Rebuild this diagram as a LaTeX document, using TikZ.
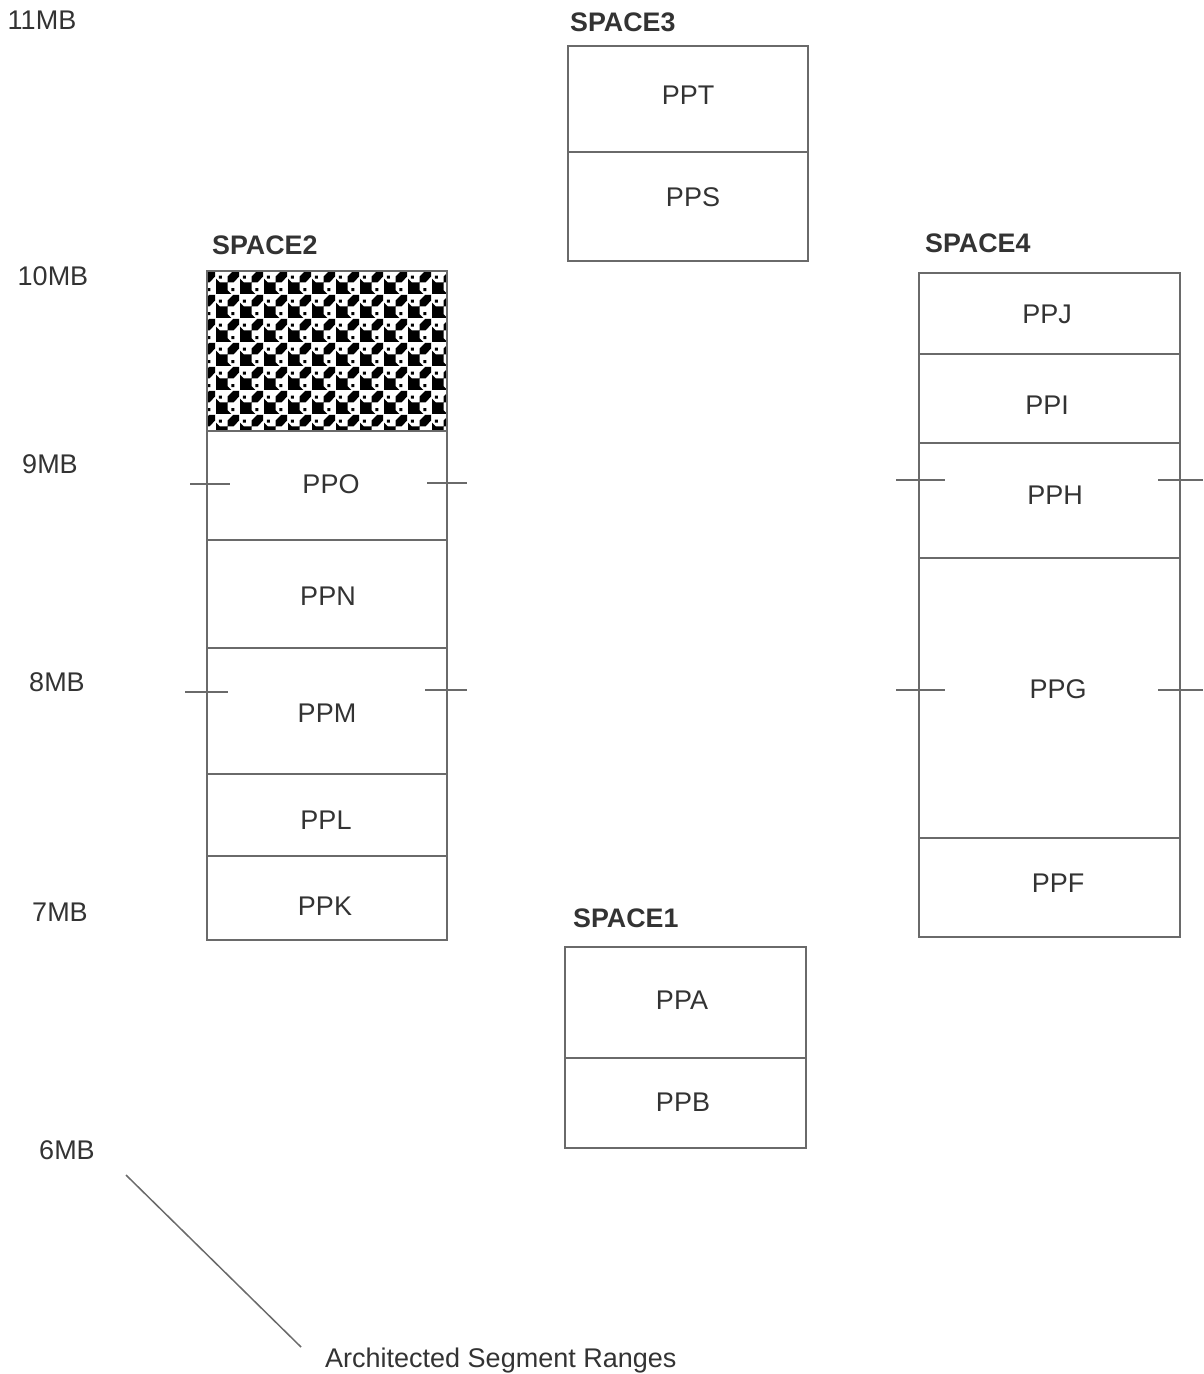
\documentclass[tikz,border=0pt]{standalone}
\usepackage{fontspec}
\setmainfont{Liberation Sans}
\usetikzlibrary{patterns,fit}
\definecolor{ln}{HTML}{6A6A6A}
\definecolor{tx}{HTML}{333333}
\pgfdeclarepatternformonly{hound}{\pgfpointorigin}{\pgfqpoint{24pt}{24pt}}{\pgfqpoint{24pt}{24pt}}{%
  \pgfpathrectangle{\pgfpointorigin}{\pgfqpoint{12pt}{12pt}}%
  \pgfpathmoveto{\pgfqpoint{12pt}{12pt}}%
  \pgfpathlineto{\pgfqpoint{18pt}{12pt}}%
  \pgfpathlineto{\pgfqpoint{24pt}{18pt}}%
  \pgfpathlineto{\pgfqpoint{24pt}{24pt}}%
  \pgfpathlineto{\pgfqpoint{18pt}{24pt}}%
  \pgfpathlineto{\pgfqpoint{12pt}{18pt}}%
  \pgfpathclose
  \pgfpathmoveto{\pgfqpoint{12pt}{0pt}}%
  \pgfpathlineto{\pgfqpoint{16pt}{0pt}}%
  \pgfpathlineto{\pgfqpoint{12pt}{4pt}}%
  \pgfpathclose
  \pgfpathmoveto{\pgfqpoint{0pt}{12pt}}%
  \pgfpathlineto{\pgfqpoint{0pt}{16pt}}%
  \pgfpathlineto{\pgfqpoint{4pt}{12pt}}%
  \pgfpathclose
  \pgfpathrectangle{\pgfqpoint{16pt}{3pt}}{\pgfqpoint{3pt}{3pt}}%
  \pgfpathrectangle{\pgfqpoint{3pt}{16pt}}{\pgfqpoint{3pt}{3pt}}%
  \pgfusepath{fill}}
\begin{document}
\begin{tikzpicture}[x=1pt,y=-1pt,
  txt/.style={text=tx, font=\fontsize{27}{31}\selectfont, inner sep=0pt, text height=19.3pt, text depth=0pt},
  ttl/.style={text=tx, font=\bfseries\fontsize{26.8}{31}\selectfont, inner sep=0pt, text height=19.2pt, text depth=0pt, anchor=west},
  cell/.style={draw=ln, line width=1.5pt, inner sep=0pt, rectangle},
  tick/.style={draw=ln, line width=1.5pt}]
\useasboundingbox (0,0) rectangle (1203,1374);

% scale labels
\node[txt] (m11) at (42,20) {11MB};
\node[txt] (m10) at (53,276) {10MB};
\node[txt] (m9) at (50,464) {9MB};
\node[txt] (m8) at (57,682) {8MB};
\node[txt] (m7) at (60,912) {7MB};
\node[txt] (m6) at (67,1150) {6MB};

% SPACE3
\node[ttl] (s3) at (570,22) {SPACE3};
\node[cell, fit={(568,46) (808,152)}] (cppt) {};
\node[cell, fit={(568,152) (808,261)}] (cpps) {};
\node[txt] (tppt) at (688,95) {PPT};
\node[txt] (tpps) at (693,197) {PPS};

% SPACE2
\node[ttl] (s2) at (212,245) {SPACE2};
\node[cell, fit={(207,271) (447,431)}, pattern=hound, pattern color=black] (chatch) {};
\node[cell, fit={(207,431) (447,540)}] (cppo) {};
\node[cell, fit={(207,540) (447,648)}] (cppn) {};
\node[cell, fit={(207,648) (447,774)}] (cppm) {};
\node[cell, fit={(207,774) (447,856)}] (cppl) {};
\node[cell, fit={(207,856) (447,940)}] (cppk) {};
\node[txt] (tppo) at (331,484) {PPO};
\node[txt] (tppn) at (328,596) {PPN};
\node[txt] (tppm) at (327,713) {PPM};
\node[txt] (tppl) at (326,820) {PPL};
\node[txt] (tppk) at (325,906) {PPK};
\draw[tick] (190,484) -- (230,484);
\draw[tick] (427,483) -- (467,483);
\draw[tick] (185,692) -- (228,692);
\draw[tick] (425,690) -- (467,690);

% SPACE4
\node[ttl] (s4) at (925,243) {SPACE4};
\node[cell, fit={(919,273) (1180,354)}] (cppj) {};
\node[cell, fit={(919,354) (1180,443)}] (cppi) {};
\node[cell, fit={(919,443) (1180,558)}] (cpph) {};
\node[cell, fit={(919,558) (1180,838)}] (cppg) {};
\node[cell, fit={(919,838) (1180,937)}] (cppf) {};
\node[txt] (tppj) at (1047,314) {PPJ};
\node[txt] (tppi) at (1047,405) {PPI};
\node[txt] (tpph) at (1055,495) {PPH};
\node[txt] (tppg) at (1058,689) {PPG};
\node[txt] (tppf) at (1058,883) {PPF};
\draw[tick] (896,480) -- (945,480);
\draw[tick] (1158,480) -- (1203,480);
\draw[tick] (896,690) -- (945,690);
\draw[tick] (1158,690) -- (1203,690);

% SPACE1
\node[ttl] (s1) at (573,918) {SPACE1};
\node[cell, fit={(565,947) (806,1058)}] (cppa) {};
\node[cell, fit={(565,1058) (806,1148)}] (cppb) {};
\node[txt] (tppa) at (682,1000) {PPA};
\node[txt] (tppb) at (683,1102) {PPB};

% caption
\node[txt, anchor=west] (cap) at (325,1358) {Architected Segment Ranges};
\coordinate (ls) at (126,1175);
\coordinate (le) at (301,1347);
\draw[tick] (ls) -- (le);
\end{tikzpicture}
\end{document}
